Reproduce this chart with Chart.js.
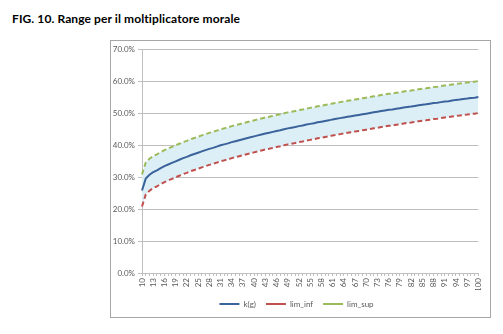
<!DOCTYPE html>
<html>
<head>
<meta charset="utf-8">
<script src="https://cdn.jsdelivr.net/npm/chart.js@4/dist/chart.umd.min.js"></script>
<style>
  html, body { margin: 0; padding: 0; background: #fff; }
  body { width: 503px; height: 334px; position: relative; overflow: hidden; }
  #title { position: absolute; left: 12px; top: 11px; font-family: Lato, "Liberation Sans", sans-serif; font-weight: bold; font-size: 12px; letter-spacing: 0.1px; color: #000; white-space: nowrap; }
  #frame { position: absolute; left: 110px; top: 40px; width: 381px; height: 278px; box-sizing: border-box; border: 1px solid #a6a6a6; }
  #wrap { position: absolute; left: 111px; top: 41px; width: 379px; height: 276px; }
</style>
</head>
<body>
<div id="title">FIG. 10. Range per il moltiplicatore morale</div>
<div id="frame"></div>
<div id="wrap"><canvas id="c" width="379" height="276"></canvas></div>
<script>
const categories = [10,11,12,13,14,15,16,17,18,19,20,21,22,23,24,25,26,27,28,29,30,31,32,33,34,35,36,37,38,39,40,41,42,43,44,45,46,47,48,49,50,51,52,53,54,55,56,57,58,59,60,61,62,63,64,65,66,67,68,69,70,71,72,73,74,75,76,77,78,79,80,81,82,83,84,85,86,87,88,89,90,91,92,93,94,95,96,97,98,99,100];

const kg = [25.8,29.5,30.7,31.5,32.1,32.8,33.4,33.9,34.4,34.9,35.4,35.9,36.3,36.8,37.2,37.6,38.0,38.4,38.8,39.1,39.5,39.9,40.2,40.5,40.9,41.2,41.5,41.8,42.1,42.4,42.7,43.0,43.3,43.6,43.8,44.1,44.4,44.6,44.9,45.2,45.4,45.6,45.9,46.1,46.4,46.6,46.8,47.1,47.3,47.5,47.7,48.0,48.2,48.4,48.6,48.8,49.0,49.2,49.4,49.6,49.8,50.0,50.2,50.4,50.6,50.8,51.0,51.1,51.3,51.5,51.7,51.9,52.0,52.2,52.4,52.6,52.7,52.9,53.1,53.2,53.4,53.6,53.7,53.9,54.1,54.2,54.4,54.5,54.7,54.8,55.0];

const limInf = [20.8,24.5,25.7,26.5,27.1,27.8,28.4,28.9,29.4,29.9,30.4,30.9,31.3,31.8,32.2,32.6,33.0,33.4,33.8,34.1,34.5,34.9,35.2,35.5,35.9,36.2,36.5,36.8,37.1,37.4,37.7,38.0,38.3,38.6,38.8,39.1,39.4,39.6,39.9,40.2,40.4,40.6,40.9,41.1,41.4,41.6,41.8,42.1,42.3,42.5,42.7,43.0,43.2,43.4,43.6,43.8,44.0,44.2,44.4,44.6,44.8,45.0,45.2,45.4,45.6,45.8,46.0,46.1,46.3,46.5,46.7,46.9,47.0,47.2,47.4,47.6,47.7,47.9,48.1,48.2,48.4,48.6,48.7,48.9,49.1,49.2,49.4,49.5,49.7,49.8,50.0];

const limSup = [30.8,34.5,35.7,36.5,37.1,37.8,38.4,38.9,39.4,39.9,40.4,40.9,41.3,41.8,42.2,42.6,43.0,43.4,43.8,44.1,44.5,44.9,45.2,45.5,45.9,46.2,46.5,46.8,47.1,47.4,47.7,48.0,48.3,48.6,48.8,49.1,49.4,49.6,49.9,50.2,50.4,50.6,50.9,51.1,51.4,51.6,51.8,52.1,52.3,52.5,52.7,53.0,53.2,53.4,53.6,53.8,54.0,54.2,54.4,54.6,54.8,55.0,55.2,55.4,55.6,55.8,56.0,56.1,56.3,56.5,56.7,56.9,57.0,57.2,57.4,57.6,57.7,57.9,58.1,58.2,58.4,58.6,58.7,58.9,59.1,59.2,59.4,59.5,59.7,59.8,60.0];

const seriesNames = ['k(g)', 'lim_inf', 'lim_sup'];
const yTicks = [0, 10, 20, 30, 40, 50, 60, 70];

const FONT = 'Lato, "Liberation Sans", sans-serif';
const TXT = '#595959';
const GRID = '#bfbfbf';

new Chart(document.getElementById('c'), {
  type: 'line',
  data: {
    labels: categories.map(String),
    datasets: [
      { label: seriesNames[0], data: kg, borderColor: '#3a629b', borderWidth: 2, pointRadius: 0, fill: false, tension: 0 },
      { label: seriesNames[1], data: limInf, borderColor: '#c0504d', borderWidth: 2, borderDash: [5, 3], pointRadius: 0, fill: false, tension: 0 },
      { label: seriesNames[2], data: limSup, borderColor: '#9bbb59', borderWidth: 2, borderDash: [5, 3], pointRadius: 0, fill: '-1', backgroundColor: '#ddeff6', tension: 0 }
    ]
  },
  options: {
    responsive: false,
    animation: false,
    layout: { padding: { left: 0, right: 8, top: 8, bottom: -1 } },
    plugins: {
      filler: { drawTime: 'beforeDatasetsDraw' },
      tooltip: { enabled: false },
      legend: {
        position: 'bottom',
        labels: {
          usePointStyle: true,
          pointStyle: 'line',
          pointStyleWidth: 20,
          boxHeight: 6,
          padding: 10,
          color: TXT,
          font: { family: FONT, size: 8 }
        }
      }
    },
    scales: {
      x: {
        type: 'category',
        offset: false,
        border: { color: GRID, width: 1 },
        grid: { display: true, drawOnChartArea: false, drawTicks: true, tickLength: 3, color: GRID },
        ticks: {
          autoSkip: false,
          maxRotation: 90,
          minRotation: 90,
          padding: 2,
          color: TXT,
          font: { family: FONT, size: 8 },
          callback: function(v, i) { return i % 3 === 0 ? categories[i] : ''; }
        },
        afterFit: function(s) { s.height = 17; }
      },
      y: {
        min: 0,
        max: 70,
        afterBuildTicks: function(s) { s.ticks = yTicks.map(v => ({ value: v })); },
        border: { color: GRID, width: 1 },
        grid: { color: GRID, tickLength: 4, drawTicks: true },
        ticks: {
          padding: 3,
          color: TXT,
          font: { family: FONT, size: 8 },
          callback: function(v) { return v.toFixed(1) + '%'; }
        },
        afterFit: function(s) { s.width = 31; }
      }
    }
  }
});
</script>
</body>
</html>
